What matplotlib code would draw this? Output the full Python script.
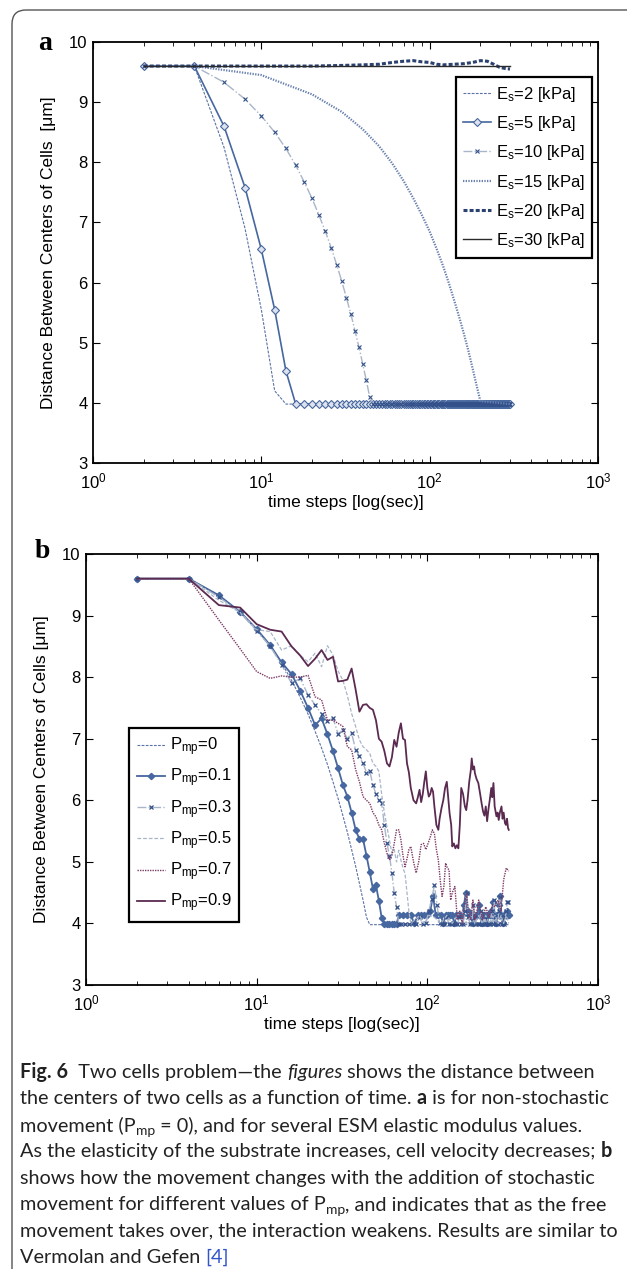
import numpy as np
import matplotlib
matplotlib.use('Agg')
import matplotlib.pyplot as plt
from matplotlib.patches import FancyBboxPatch
from matplotlib.transforms import Affine2D

plt.rcParams['font.family'] = ['Liberation Sans', 'DejaVu Sans']
plt.rcParams['mathtext.fontset'] = 'custom'
plt.rcParams['mathtext.rm'] = 'Liberation Sans'
plt.rcParams['mathtext.it'] = 'Liberation Sans:italic'
plt.rcParams['mathtext.bf'] = 'Liberation Sans:bold'
plt.rcParams['mathtext.default'] = 'regular'

W, H = 627, 1269

# ------------------------------------------------------------------ data (a)
time_steps = list(range(2, 302, 2))          # simulation time steps 2..300
plateau = 3.98                               # contact distance reached

es2_t = [2, 4, 6, 8, 10, 12, 14, 300]
es2_v = [9.6, 9.6, 8.25, 6.9, 5.55, 4.2, 3.98, 3.98]

es5_drop = [9.6, 9.6, 8.6, 7.58, 6.55, 5.55, 4.53]          # t = 2..14
es10_drop = [9.6, 9.6, 9.33, 9.05, 8.77, 8.5, 8.23, 7.95, 7.67, 7.4, 7.12,
             6.85, 6.58, 6.3, 6.03, 5.75, 5.48, 5.2, 4.93, 4.65, 4.38, 4.1]  # t = 2..44

es15_t = [2, 4, 10, 20, 30, 40, 50, 60, 70, 80, 90, 100, 110, 120, 130, 140,
          150, 160, 170, 180, 190, 200, 300]
es15_v = [9.6, 9.6, 9.45, 9.13, 8.84, 8.55, 8.27, 7.98, 7.69, 7.4, 7.12, 6.85,
          6.56, 6.28, 5.99, 5.7, 5.42, 5.14, 4.86, 4.57, 4.29, 4.03, 3.98]

es20_t = [2, 4, 10, 20, 30, 40, 50, 60, 70, 80, 90, 100, 110, 120, 140, 160,
          180, 200, 220, 240, 260, 280, 300]
es20_v = [9.6, 9.6, 9.6, 9.6, 9.61, 9.62, 9.63, 9.66, 9.68, 9.69, 9.67, 9.66,
          9.63, 9.62, 9.63, 9.64, 9.66, 9.69, 9.68, 9.63, 9.58, 9.56, 9.55]

es30_t = [2, 300]
es30_v = [9.6, 9.6]

es_labels = ['E$_s$=2 [kPa]', 'E$_s$=5 [kPa]', 'E$_s$=10 [kPa]',
             'E$_s$=15 [kPa]', 'E$_s$=20 [kPa]', 'E$_s$=30 [kPa]']

# ------------------------------------------------------------------ data (b)
p0_t = [2, 4, 6, 8, 10, 12, 14, 16, 18, 20, 22, 24, 26, 28, 30, 32, 34, 36,
        38, 40, 42, 44, 46, 300]
p0_v = es10_drop + [3.98, 3.98]

p01_t = list(range(2, 68, 2)) + list(range(68, 301, 4))
p01_v = [9.6, 9.6, 9.33, 9.06, 8.78, 8.52, 8.24, 8.05, 7.78, 7.5, 7.22, 7.33,
         7.07, 6.8, 6.52, 6.25, 6.06, 5.8, 5.52, 5.37, 5.37, 5.1, 4.83, 4.56,
         4.62, 4.37, 4.09, 3.99, 3.99, 3.99, 3.99, 3.99, 3.99,
         4.13, 4.13, 4.13, 4.13, 4.0, 4.13, 4.13, 4.13, 4.13, 4.2, 4.45, 4.13,
         4.13, 4.13, 4.0, 4.13, 4.13, 4.13, 4.13, 4.0, 4.13, 4.13, 4.13, 4.13,
         4.3, 4.5, 4.2, 4.13, 4.13, 4.0, 4.13, 4.13, 4.13, 4.3, 4.13, 4.0,
         4.13, 4.13, 4.13, 4.0, 4.13, 4.13, 4.2, 4.13, 4.35, 4.13, 4.0, 4.13,
         4.13, 4.3, 4.45, 4.13, 4.0, 4.13, 4.13, 4.13, 4.2, 4.13, 4.13]

p03_t = list(range(2, 70, 2)) + list(range(70, 299, 4))
p03_v = [9.6, 9.6, 9.3, 9.05, 8.75, 8.5, 8.2, 7.9, 7.98, 7.71, 7.55, 7.4,
         7.29, 7.33, 7.08, 7.14, 7.0, 7.09, 6.82, 6.72, 6.6, 6.45, 6.47, 6.25,
         6.1, 6.0, 5.95, 5.6, 5.3, 5.1, 4.82, 4.49, 4.27, 3.99,
         3.99, 3.99, 3.99, 4.0, 3.99, 4.1, 3.99, 4.0, 4.2, 4.4, 4.62, 4.3, 4.0,
         3.99, 3.99, 4.1, 3.99, 3.99, 4.0, 3.99, 3.99, 4.1, 3.99, 3.99, 4.2,
         4.5, 4.1, 3.99, 3.99, 4.3, 4.1, 3.99, 3.99, 3.99, 4.2, 3.99, 3.99, 4.1,
         3.99, 3.99, 4.0, 3.99, 4.2, 3.99, 4.38, 4.1, 3.99, 3.99, 4.2, 4.43,
         4.1, 3.99, 4.0, 3.99, 4.1, 4.2, 4.35, 4.35]

p05_t = [2, 4, 6, 8, 10, 12, 14, 16, 18, 20, 22, 24, 26, 28, 30, 32, 34, 36,
         38, 40, 42, 44, 46, 48, 50, 52, 54, 56, 58, 60, 62, 64, 66, 68, 70,
         72, 74, 76, 78, 80, 84, 90, 96, 102, 110, 120, 130, 140, 150, 160,
         170, 180, 190, 200, 210, 220, 230, 240, 250, 260, 270, 280, 290, 300]
p05_v = [9.6, 9.6, 9.25, 9.05, 8.77, 8.74, 8.44, 8.51, 8.35, 8.25, 8.39, 8.17,
         8.51, 8.36, 8.1, 7.95, 7.7, 7.41, 7.2, 6.98, 6.87, 6.82, 6.76, 6.6,
         6.55, 6.47, 6.1, 5.8, 5.57, 5.35, 5.14, 5.2, 5.0, 5.19, 5.03, 4.9,
         4.81, 4.5, 4.19, 4.0, 4.05, 4.13, 4.0, 4.13, 4.1, 4.0, 4.13, 4.0,
         4.13, 4.2, 4.0, 4.13, 4.0, 4.13, 4.0, 4.13, 4.0, 4.1, 4.13, 4.0, 4.13,
         4.0, 4.13, 4.0]

p07_t = [2, 4, 6, 8, 10, 12, 14, 16, 18, 20, 22, 24, 26, 28, 30, 32, 34, 36,
         38, 40, 42, 44, 46, 48, 50, 52, 54, 56, 58, 60, 62, 64, 66, 68, 70,
         72, 74, 76, 78, 80, 83, 86, 89, 92, 95, 98, 101, 104, 107, 110, 113,
         116, 119, 122, 125, 128, 131, 134, 137, 140, 145, 150, 155, 160, 165,
         170, 175, 180, 185, 190, 195, 200, 210, 220, 230, 240, 250, 260, 270,
         280, 290, 300]
p07_v = [9.6, 9.6, 8.93, 8.46, 8.09, 7.98, 8.02, 8.0, 8.0, 8.03, 7.68, 7.63,
         7.3, 7.3, 7.25, 7.2, 6.87, 6.82, 6.5, 6.3, 6.06, 6.0, 5.95, 5.8, 5.73,
         5.6, 5.52, 5.3, 5.14, 5.03, 5.1, 5.3, 5.52, 5.52, 5.36, 5.1, 4.92,
         5.05, 5.2, 5.25, 5.0, 4.82, 5.0, 5.28, 5.3, 5.2, 5.3, 5.4, 5.52, 5.46,
         5.2, 5.03, 4.7, 4.44, 4.6, 4.98, 4.9, 4.87, 4.38, 4.5, 4.6, 4.06, 4.2,
         4.0, 4.3, 4.49, 4.1, 4.06, 4.38, 4.06, 4.2, 4.38, 4.06, 4.27, 4.1, 4.3,
         4.27, 4.38, 4.2, 4.71, 4.9, 4.85]

p09_t = [2, 4, 6, 8, 10, 12, 14, 16, 18, 20, 22, 24, 26, 28, 30, 32, 34, 36,
         38, 40, 42, 44, 46, 48, 50, 52, 54, 56, 58, 60, 62, 64, 66, 68, 70,
         72, 74, 76, 78, 80, 83, 86, 88, 90, 92, 94, 96, 98, 100, 102, 104, 106,
         108, 110, 113, 116, 118, 121, 124, 127, 130, 132, 135, 138, 140, 143,
         146, 149, 152, 155, 158, 162, 166, 169, 172, 176, 180, 182, 185, 188,
         190, 194, 199, 204, 208, 212, 216, 220, 224, 228, 232, 237, 240, 244,
         248, 254, 258, 262, 266, 272, 276, 280, 285, 289, 293, 297, 300]
p09_v = [9.6, 9.6, 9.17, 9.13, 8.86, 8.77, 8.74, 8.5, 8.35, 8.18, 8.3, 8.44,
         8.28, 8.33, 7.93, 7.94, 7.96, 8.14, 7.8, 7.44, 7.55, 7.56, 7.5, 7.47,
         7.3, 7.0, 6.95, 6.8, 6.6, 6.55, 6.7, 6.98, 6.87, 7.1, 7.25, 7.0, 6.98,
         6.6, 6.45, 6.2, 6.0, 5.95, 6.05, 6.17, 5.97, 6.1, 6.3, 6.47, 6.2, 6.06,
         6.1, 6.2, 6.14, 5.9, 5.6, 5.52, 5.7, 5.87, 6.0, 6.2, 6.3, 6.1, 5.79,
         5.6, 5.25, 5.3, 5.22, 5.27, 5.22, 5.6, 6.2, 6.1, 5.9, 5.84, 6.0, 6.3,
         6.5, 6.68, 6.5, 6.55, 6.44, 6.35, 6.28, 6.1, 5.95, 5.82, 5.75, 5.9,
         5.66, 5.85, 6.0, 6.2, 6.05, 6.28, 5.9, 5.74, 5.8, 5.68, 5.8, 5.9, 5.7,
         5.8, 5.63, 5.6, 5.7, 5.55, 5.52]

p_labels = ['P$_{mp}$=0', 'P$_{mp}$=0.1', 'P$_{mp}$=0.3', 'P$_{mp}$=0.5',
            'P$_{mp}$=0.7', 'P$_{mp}$=0.9']

x_ticks = [1, 10, 100, 1000]
x_ticklabels = ['$10^{0}$', '$10^{1}$', '$10^{2}$', '$10^{3}$']
y_ticks = [3, 4, 5, 6, 7, 8, 9, 10]

# ------------------------------------------------------------------ styles
C_MID = '#5a73a6'
C_MAIN = '#46679f'
C_LIGHT = '#a9b5c9'
C_DARKM = '#33508a'
C_DOT = '#6880ae'
C_NAVY = '#2b416f'
C_BLACK = '#2a2a2a'
C_P7 = '#7d3a66'
C_P9 = '#5b2a50'

fig = plt.figure(figsize=(W / 100, H / 100), dpi=100)
px = Affine2D().scale(1, -1).translate(0, H)

# outer rounded frame
frame = FancyBboxPatch((12, 10), 700, 1400,
                       boxstyle='round,pad=0,rounding_size=14',
                       transform=px, fill=False, edgecolor='#555555', lw=1.0)
fig.add_artist(frame)


def style_axes(ax, ylabel):
    ax.set_xscale('log')
    ax.set_xlim(1, 1000)
    ax.set_ylim(3, 10)
    ax.set_xticks(x_ticks)
    ax.set_xticklabels(x_ticklabels)
    ax.set_yticks(y_ticks)
    ax.tick_params(which='both', direction='in', top=True, right=True,
                   labelsize=12, colors='black')
    ax.tick_params(which='major', length=5, width=0.8)
    ax.tick_params(which='minor', length=3, width=0.6)
    ax.tick_params(axis='x', pad=6)
    ax.tick_params(axis='y', pad=4)
    for s in ax.spines.values():
        s.set_linewidth(1.3)
    ax.set_xlabel('time steps [log(sec)]', fontsize=12.5, labelpad=3)
    ax.set_ylabel(ylabel, fontsize=12.5, labelpad=9)


# ------------------------------------------------------------------ panel a
axA = fig.add_axes([93 / W, 1 - 463 / H, 505 / W, 421 / H])
n_after5 = len(time_steps) - len(es5_drop)
n_after10 = len(time_steps) - len(es10_drop)
es5_v = es5_drop + [plateau] * n_after5
es10_v = es10_drop + [plateau] * n_after10

axA.plot(es2_t, es2_v, color=C_MID, lw=0.8, ls=(0, (2.5, 1.2)), label=es_labels[0])
axA.plot(time_steps, es5_v, color=C_MAIN, lw=1.2, marker='D', ms=4.2,
         mfc='#dde3ee', mec=C_MAIN, mew=0.8, label=es_labels[1])
axA.plot(time_steps, es10_v, color=C_LIGHT, lw=1.0, ls='-.', marker='x', ms=3,
         mec=C_DARKM, mew=0.8, label=es_labels[2])
axA.plot(es15_t, es15_v, color=C_DOT, lw=1.6, ls=(0, (0.6, 0.6)), label=es_labels[3])
axA.plot(es20_t, es20_v, color=C_NAVY, lw=2.2, ls=(0, (1.3, 0.7)), label=es_labels[4])
axA.plot(es30_t, es30_v, color=C_BLACK, lw=1.0, label=es_labels[5])
style_axes(axA, 'Distance Between Centers of Cells  [\u03bcm]')
legA = axA.legend(loc='upper right', bbox_to_anchor=((592 - 93) / 505, 1 - (77 - 42) / 421),
                  borderaxespad=0, fontsize=12, numpoints=1, handlelength=1.7,
                  handletextpad=0.25, labelspacing=0.62, borderpad=0.45,
                  fancybox=False, framealpha=1, edgecolor='black')
legA.get_frame().set_linewidth(1.6)

# ------------------------------------------------------------------ panel b
axB = fig.add_axes([86 / W, 1 - 985 / H, 512 / W, 431 / H])
axB.plot(p0_t, p0_v, color=C_MID, lw=0.8, ls=(0, (2.5, 1.2)), label=p_labels[0])
axB.plot(p01_t, p01_v, color=C_MAIN, lw=1.3, marker='D', ms=3.2,
         mfc=C_MAIN, mec=C_MAIN, label=p_labels[1])
axB.plot(p03_t, p03_v, color=C_LIGHT, lw=1.0, ls='-.', marker='x', ms=3,
         mec=C_DARKM, mew=0.9, label=p_labels[2])
axB.plot(p05_t, p05_v, color=C_LIGHT, lw=0.9, ls=(0, (3, 1.5)), label=p_labels[3])
axB.plot(p07_t, p07_v, color=C_P7, lw=1.0, ls=(0, (1, 0.8)), label=p_labels[4])
axB.plot(p09_t, p09_v, color=C_P9, lw=1.3, label=p_labels[5])
style_axes(axB, 'Distance Between Centers of Cells [\u03bcm]')
legB = axB.legend(loc='lower left', bbox_to_anchor=((129 - 86) / 512, (985 - 922) / 431),
                  borderaxespad=0, fontsize=12, numpoints=1, handlelength=1.7,
                  handletextpad=0.3, labelspacing=0.52, borderpad=0.45,
                  fancybox=False, framealpha=1, edgecolor='black')
legB.get_frame().set_linewidth(1.6)

# panel letters
fig.text(45 / W, 1 - 44 / H, 'a', fontsize=20, fontweight='bold',
         family=['Liberation Serif', 'DejaVu Serif'], ha='center', va='center')
fig.text(42 / W, 1 - 552 / H, 'b', fontsize=20, fontweight='bold',
         family=['Liberation Serif', 'DejaVu Serif'], ha='center', va='center')

# ------------------------------------------------------------------ caption
renderer = fig.canvas.get_renderer()
CAP_FONT = ['Lato', 'DejaVu Sans']


def text_width(s, size, weight='normal', style='normal'):
    t1 = fig.text(0, 0, '|' + s + '|', fontsize=size, fontweight=weight,
                  fontstyle=style, family=CAP_FONT)
    t2 = fig.text(0, 0, '||', fontsize=size, fontweight=weight,
                  fontstyle=style, family=CAP_FONT)
    w = t1.get_window_extent(renderer).width - t2.get_window_extent(renderer).width
    t1.remove()
    t2.remove()
    return w


caption = [
    [('Fig. 6', 'b'), ('  Two cells problem\u2014the ', 'r'), ('figures', 'i'),
     (' shows the distance between', 'r')],
    [('the centers of two cells as a function of time. ', 'r'), ('a', 'b'),
     (' is for non-stochastic', 'r')],
    [('movement (P', 'r'), ('mp', 's'), (' = 0), and for several ESM elastic modulus values.', 'r')],
    [('As the elasticity of the substrate increases, cell velocity decreases; ', 'r'), ('b', 'b')],
    [('shows how the movement changes with the addition of stochastic', 'r')],
    [('movement for different values of P', 'r'), ('mp', 's'),
     (', and indicates that as the free', 'r')],
    [('movement takes over, the interaction weakens. Results are similar to', 'r')],
    [('Vermolan and Gefen ', 'r'), ('[4]', 'link')],
]

ref_w = text_width(caption[6][0][0], 10)
cap_size = 10 * 598 / ref_w
x_start = 20
y_first = 1078
line_gap = 26.4

for i, line in enumerate(caption):
    x = x_start
    yb = y_first + i * line_gap
    for s, kind in line:
        size = cap_size
        weight = 'normal'
        fstyle = 'normal'
        color = '#222222'
        y = yb
        if kind == 'b':
            weight = 'bold'
        elif kind == 'i':
            fstyle = 'italic'
        elif kind == 's':
            size = cap_size * 0.7
            y = yb + 4
        elif kind == 'link':
            color = '#3355cc'
        fig.text(x / W, 1 - y / H, s, fontsize=size, fontweight=weight,
                 fontstyle=fstyle, color=color, family=CAP_FONT,
                 ha='left', va='baseline')
        x += text_width(s, size, weight, fstyle)

fig.savefig('out.png', dpi=100)
